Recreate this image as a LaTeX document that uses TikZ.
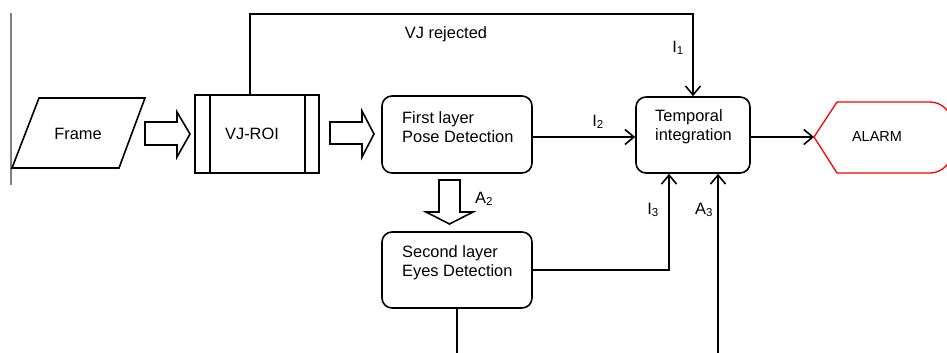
\documentclass[tikz,border=0pt]{standalone}
\usepackage{fontspec}
\setmainfont{Liberation Sans}
\usetikzlibrary{arrows.meta}
\begin{document}
\begin{tikzpicture}[x=1pt,y=-1pt,
  font=\fontsize{16.4}{19.5}\selectfont,
  line/.style={line width=1.6pt, draw=black},
  arr/.style={line, -{Straight Barb[length=9pt,width=15pt]}},
  box/.style={line, rounded corners=10pt, minimum width=150pt, minimum height=77pt, inner sep=0pt},
  txt/.style={align=left, anchor=west, inner sep=0pt},
  lab/.style={inner sep=0pt},
  hollow/.style={line width=1.6pt, draw=black, fill=white, line join=miter},
  alarmline/.style={draw=red, line width=1.3pt}]
\useasboundingbox (0,0) rectangle (947,353);

% left gray rule
\draw[line width=1.5pt, draw=black!50] (11,13) -- (11,185);

% Frame (parallelogram)
\draw[line] (39,98) -- (145,98) -- (119,168) -- (12,168) -- cycle;
\node[lab] (frame) at (78,134) {Frame};

% hollow arrow Frame -> VJ-ROI
\draw[hollow] (145,122) -- (177,122) -- (177,112) -- (190,134) -- (177,157) -- (177,145) -- (145,145) -- cycle;

% VJ-ROI (predefined process)
\node[line, minimum width=124pt, minimum height=78pt, inner sep=0pt] (vj) at (257,134) {};
\draw[line] ([xshift=16pt]vj.north west) -- ([xshift=16pt]vj.south west);
\draw[line] ([xshift=-15pt]vj.north east) -- ([xshift=-15pt]vj.south east);
\node[lab] (vjt) at (252,134) {VJ-ROI};

% hollow arrow VJ-ROI -> First layer
\draw[hollow] (330,122) -- (362,122) -- (362,111) -- (374,134) -- (362,157) -- (362,144) -- (330,144) -- cycle;

% First layer
\node[box] (first) at (457,134.5) {};
\node[txt] (firstT) at (402,127) {First layer\\Pose Detection};

% hollow arrow First -> Second
\draw[hollow] (439,180) -- (460,180) -- (460,212) -- (473,212) -- (449.5,224) -- (426,212) -- (439,212) -- cycle;
\node[lab] (a2) at (484,199) {A\textsubscript{2}};

% Second layer
\node[box, minimum height=76pt] (second) at (457,270) {};
\node[txt] (secondT) at (402,263) {Second layer\\Eyes Detection};

% Temporal integration
\node[box, minimum width=114pt, minimum height=76pt] (temp) at (693,135) {};
\node[txt] (tempT) at (655,127) {Temporal\\integration};

% ALARM (display shape)
\draw[alarmline] (814,137) -- (837,102) -- (930,102) .. controls (942,102) and (952,112) .. (952,124) -- (952,151) .. controls (952,163) and (942,173) .. (930,173) -- (837,173) -- cycle;
\coordinate (alarmtip) at (814,137);
\node[lab, font=\fontsize{14.5}{17}\selectfont] (alarm) at (877,137) {ALARM};

% connectors
\coordinate (topL) at (250,14);
\draw[arr] (vj.north -| topL) -- (topL) -| (temp.north);
\node[lab] (vjrej) at (446,34) {VJ rejected};
\node[lab] (i1) at (678,48) {I\textsubscript{1}};

\draw[arr] ([yshift=-2.5pt]first.east) -- ([yshift=-2.5pt]first.east -| temp.west);
\node[lab] (i2) at (598,122) {I\textsubscript{2}};

\draw[arr] ([yshift=-2pt]temp.east) -- (alarmtip);

\draw[arr] (second.east) -| ([xshift=-24pt]temp.south);
\node[lab] (i3) at (653,210) {I\textsubscript{3}};

\coordinate (a3start) at (718,353);
\draw[arr] (a3start) -- (a3start |- temp.south);
\node[lab] (a3) at (704,210) {A\textsubscript{3}};

\coordinate (sEnd) at (457,353);
\draw[line] (second.south) -- (sEnd);
\end{tikzpicture}
\end{document}
